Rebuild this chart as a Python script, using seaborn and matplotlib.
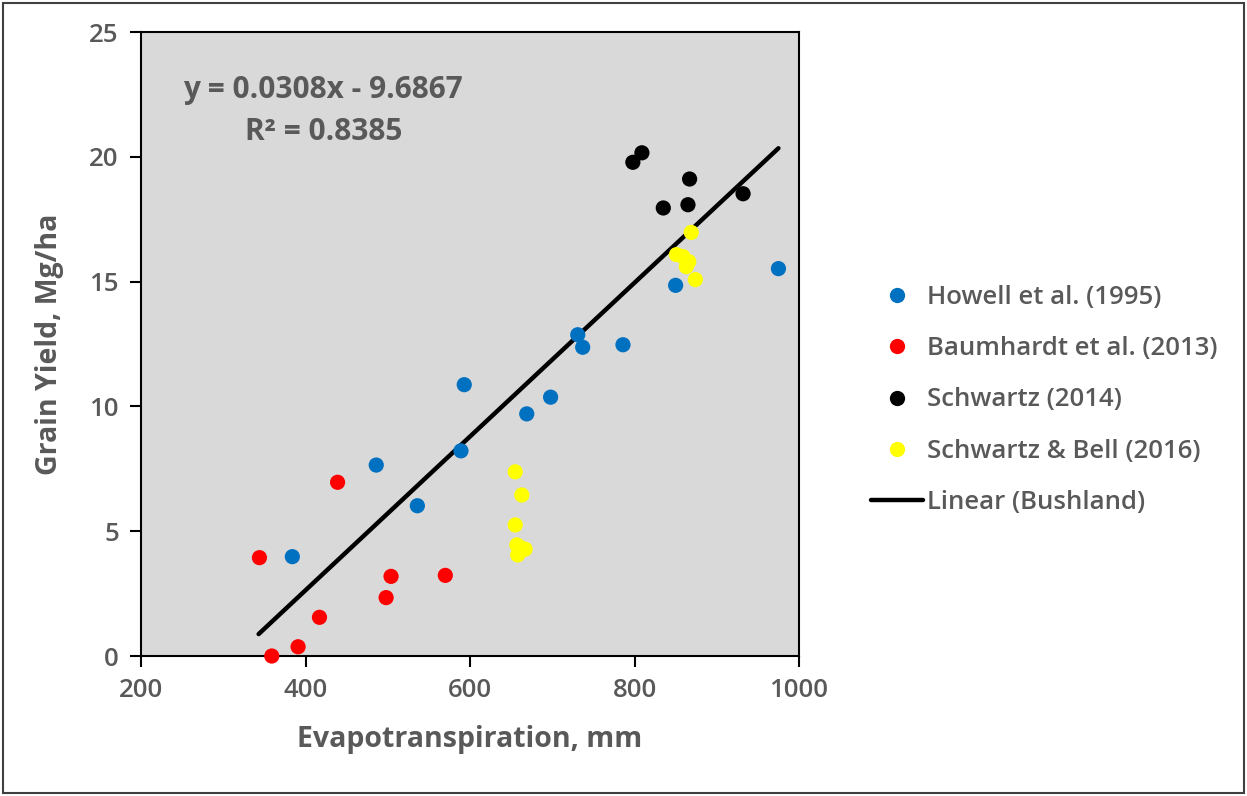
import matplotlib
matplotlib.use("Agg")
import matplotlib.pyplot as plt
import seaborn as sns
import pandas as pd
import numpy as np
from matplotlib.lines import Line2D
from matplotlib.patches import Rectangle

# ---- data ----
howell_et = [384, 536, 486, 589, 593, 669, 698, 731, 737, 786, 850, 975]
howell_yield = [3.98, 6.02, 7.65, 8.22, 10.87, 9.70, 10.37, 12.87, 12.37, 12.47, 14.85, 15.52]
baum_et = [344, 359, 391, 417, 439, 498, 504, 570]
baum_yield = [3.94, 0.0, 0.37, 1.55, 6.96, 2.34, 3.19, 3.23]
schw_et = [798, 809, 835, 865, 867, 932]
schw_yield = [19.78, 20.16, 17.95, 18.08, 19.11, 18.52]
sb_et = [655, 663, 655, 657, 667, 658, 661, 869, 851, 859, 863, 874, 866]
sb_yield = [7.38, 6.45, 5.25, 4.45, 4.28, 4.05, 4.35, 16.97, 16.08, 16.00, 15.60, 15.08, 15.80]

series_names = ["Howell et al. (1995)", "Baumhardt et al. (2013)",
                "Schwartz (2014)", "Schwartz & Bell (2016)"]
series_colors = ["#0070C0", "#FF0000", "#000000", "#FFFF00"]
slope, intercept, r2 = 0.0308, -9.6867, 0.8385
fit_x_range = [343, 975]
x_ticks = [200, 400, 600, 800, 1000]
y_ticks = [0, 5, 10, 15, 20, 25]

frames = []
for name, xs, ys in zip(series_names,
                        [howell_et, baum_et, schw_et, sb_et],
                        [howell_yield, baum_yield, schw_yield, sb_yield]):
    frames.append(pd.DataFrame({"ET": xs, "Yield": ys, "Source": name}))
df = pd.concat(frames, ignore_index=True)

fit_x = np.array(fit_x_range, dtype=float)
fit_df = pd.DataFrame({"ET": fit_x, "Yield": slope * fit_x + intercept})

# ---- style ----
sns.set_style("ticks")
plt.rcParams["font.family"] = ["Open Sans", "DejaVu Sans"]
txt = "#595959"

fig = plt.figure(figsize=(12.47, 7.96), dpi=100)
ax = fig.add_axes([141 / 1247, 1 - 656 / 796, (799 - 141) / 1247, (656 - 32) / 796])
ax.set_facecolor("#D9D9D9")

sns.scatterplot(data=df, x="ET", y="Yield", hue="Source",
                palette=dict(zip(series_names, series_colors)),
                s=120, edgecolor="none", linewidth=0, ax=ax, legend=False,
                clip_on=False, zorder=3)
sns.lineplot(data=fit_df, x="ET", y="Yield", color="black", linewidth=3.2,
             ax=ax, zorder=2)

ax.set_xlim(200, 1000)
ax.set_ylim(0, 25)
ax.set_xticks(x_ticks)
ax.set_yticks(y_ticks)
for sp in ax.spines.values():
    sp.set_visible(True)
    sp.set_color("black")
    sp.set_linewidth(1.5)
ax.tick_params(axis="both", direction="out", length=8, width=1.5,
               colors="black", labelcolor=txt, labelsize=18.5, pad=8)
for lab in ax.get_xticklabels() + ax.get_yticklabels():
    lab.set_fontweight("semibold")

ax.set_xlabel("Evapotranspiration, mm", fontsize=20.5, fontweight="bold",
              color=txt, labelpad=16)
ax.set_ylabel("Grain Yield, Mg/ha", fontsize=20.5, fontweight="bold",
              color=txt, labelpad=18)

ax.text(0.277, 0.873, f"y = {slope}x - {abs(intercept)}\nR\u00b2 = {r2}",
        transform=ax.transAxes, ha="center", va="center", fontsize=21.5,
        fontweight="bold", color=txt, linespacing=1.5)

# ---- legend ----
handles = [Line2D([0], [0], marker="o", linestyle="none", markersize=11,
                  markerfacecolor=c, markeredgecolor="none")
           for c in series_colors]
handles.append(Line2D([0], [0], color="black", linewidth=3.2))
labels = series_names + ["Linear (Bushland)"]
leg = fig.legend(handles, labels, loc="center left",
                 bbox_to_anchor=(861 / 1247, 1 - 400 / 796), frameon=False,
                 fontsize=18.5, labelspacing=1.02, handlelength=2.0,
                 handletextpad=0.15, borderaxespad=0)
for t in leg.get_texts():
    t.set_color(txt)
    t.set_fontweight("semibold")

# outer chart border
fig.patches.append(Rectangle((3 / 1247, 3 / 796), 1 - 6 / 1247, 1 - 6 / 796,
                             transform=fig.transFigure, fill=False,
                             edgecolor="#404040", linewidth=1.5))

fig.savefig("out.png", dpi=100)
